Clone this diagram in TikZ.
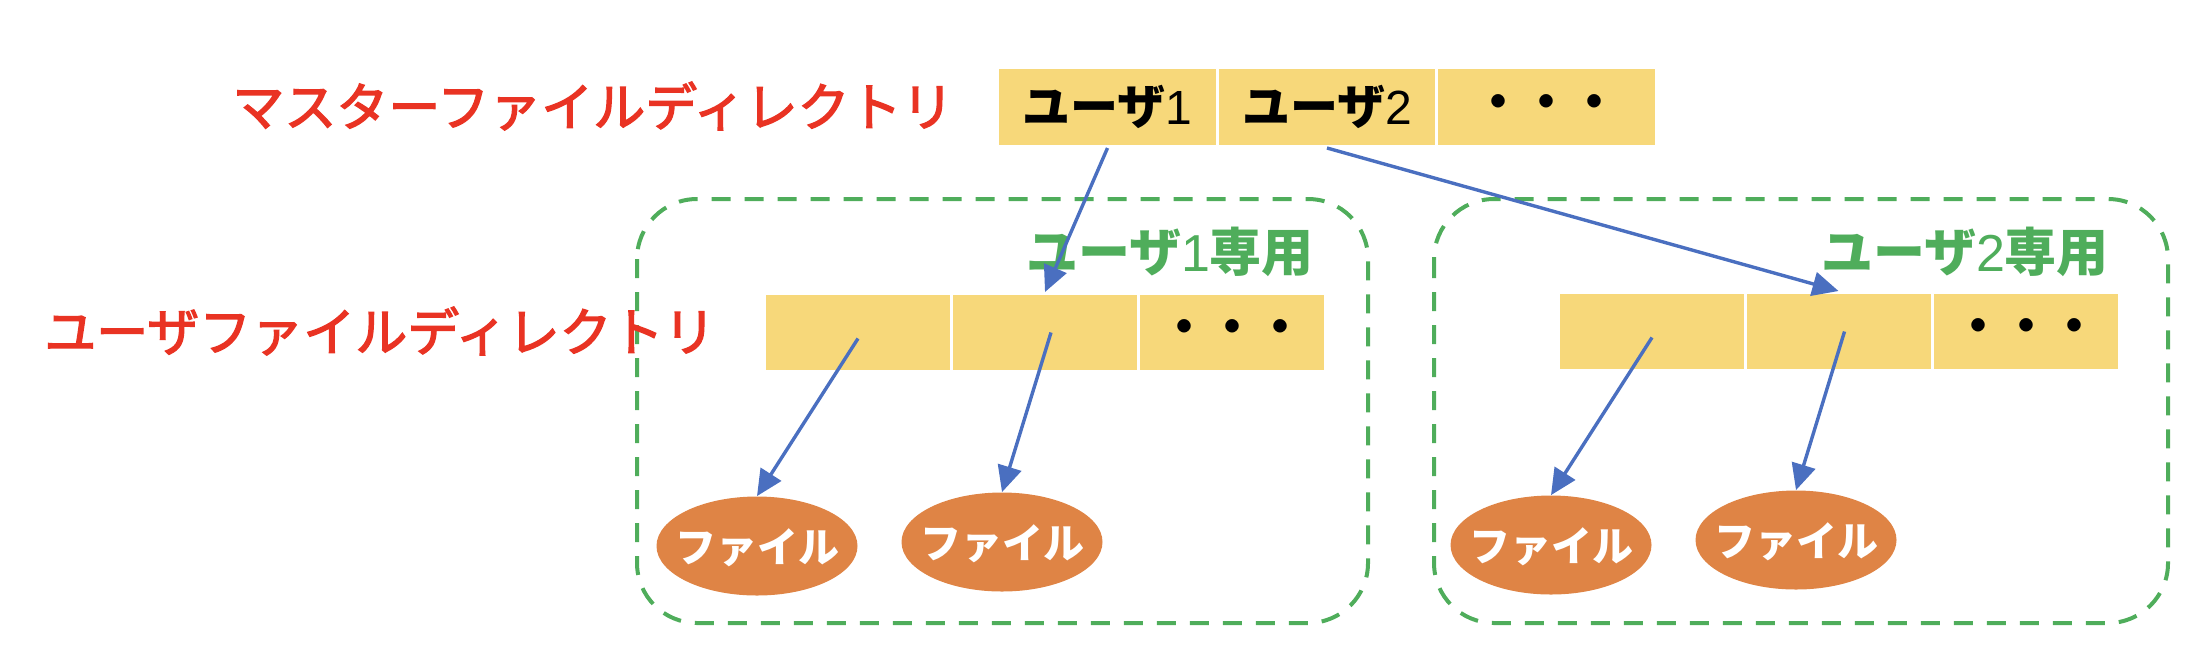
\documentclass[tikz,border=0pt]{standalone}
\usepackage{fontspec}
\newfontfamily\cjk{Noto Sans CJK JP}
\newfontfamily\cjkmed{Noto Sans CJK JP}[FakeBold=2.6]
\newfontfamily\lat{Liberation Sans}
\usetikzlibrary{arrows.meta,shapes.geometric}
\definecolor{cellY}{HTML}{F7D87A}
\definecolor{fileO}{HTML}{DF8445}
\definecolor{grp}{HTML}{4FAD5B}
\definecolor{labelR}{HTML}{E93323}
\definecolor{arrB}{HTML}{4A6FC0}
\newcommand{\dig}[1]{{\lat\mdseries #1}}
\tikzset{
  cell/.style={rectangle, fill=cellY, draw=white, line width=1.5pt, inner sep=0pt},
  mcell/.style={cell, minimum width=109.75pt, minimum height=39.5pt, font=\cjk\bfseries\fontsize{24}{28}\selectfont},
  ucell/.style={cell, minimum width=93.5pt, minimum height=39pt},
  dots/.style={font=\cjk\bfseries\fontsize{24}{28}\selectfont},
  fileshape/.style={ellipse, fill=fileO, minimum width=100.5pt, minimum height=49.5pt, inner sep=0pt},
  filetext/.style={text=white, inner sep=0pt, font=\cjk\bfseries\fontsize{20.5}{24}\selectfont},
  redlabel/.style={text=labelR, font=\cjkmed\fontsize{26}{30}\selectfont, inner sep=0pt},
  greenlabel/.style={text=grp, font=\cjk\bfseries\fontsize{26}{30}\selectfont, inner sep=0pt},
  groupbox/.style={draw=grp, line width=2pt, dash pattern=on 9.5pt off 7pt, rounded corners=30pt},
  arr/.style={draw=arrB, line width=1.7pt, -{Triangle[length=13pt,width=12pt]}}
}
\begin{document}
\begin{tikzpicture}[x=0.5pt,y=-0.5pt]
\useasboundingbox (0,0) rectangle (2198,666);
% group frames
\draw[groupbox] (637,199) rectangle (1368,623);
\draw[groupbox] (1434,199) rectangle (2168,623);
% labels
\node[redlabel] (mlabel) at (593,106) {マスターファイルディレクトリ};
\node[redlabel] (ulabel) at (380,331) {ユーザファイルディレクトリ};
\node[greenlabel] (g1) at (1170,252) {ユーザ\dig{1}専用};
\node[greenlabel] (g2) at (1965,252) {ユーザ\dig{2}専用};
% master directory
\node[mcell] (m1) at (1107.5,107) {ユーザ\dig{1}};
\node[mcell] (m2) at (1327,107) {ユーザ\dig{2}};
\node[mcell, dots] (m3) at (1546.5,107) {・・・};
% user 1 directory
\node[ucell] (a1) at (858,332.5) {};
\node[ucell] (a2) at (1045,332.5) {};
\node[ucell, dots] (a3) at (1232,332.5) {・・・};
% user 2 directory
\node[ucell] (b1) at (1652,331.5) {};
\node[ucell] (b2) at (1838.5,331.5) {};
\node[ucell, dots] (b3) at (2026,331.5) {・・・};
% files
\node[fileshape] (fa1) at (757,546) {};
\node[fileshape] (fa2) at (1002,542) {};
\node[fileshape] (fb1) at (1551,545) {};
\node[fileshape] (fb2) at (1796,540) {};
\node[filetext] (ta1) at ([yshift=-1pt]fa1.center) {ファイル};
\node[filetext] (ta2) at ([yshift=-1pt]fa2.center) {ファイル};
\node[filetext] (tb1) at ([yshift=-1pt]fb1.center) {ファイル};
\node[filetext] (tb2) at ([yshift=-1pt]fb2.center) {ファイル};
% arrows
\draw[arr] (m1.south) -- (a2.north);
\draw[arr] (m2.south) -- (b2.north);
\draw[arr] ([yshift=-3pt]a1.center) -- (fa1.north);
\draw[arr] ([xshift=3pt]a2.center) -- (fa2.north);
\draw[arr] ([yshift=-3pt]b1.center) -- (fb1.north);
\draw[arr] ([xshift=3pt]b2.center) -- (fb2.north);
\end{tikzpicture}
\end{document}
